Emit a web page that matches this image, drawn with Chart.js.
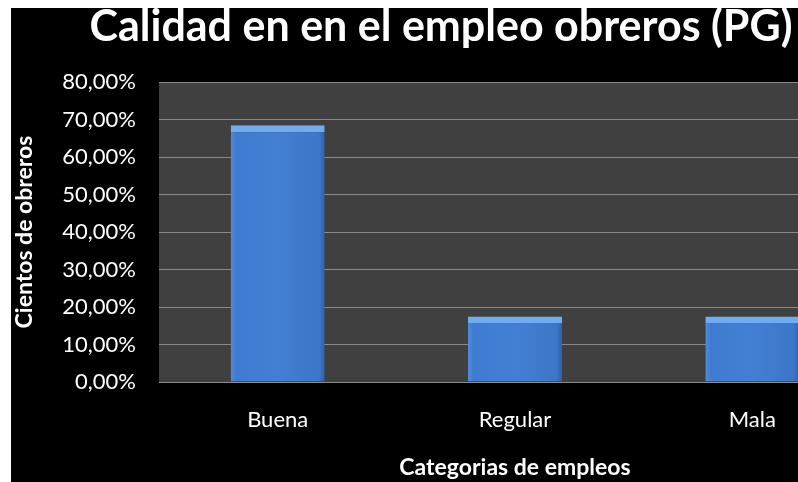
<!DOCTYPE html>
<html>
<head>
<meta charset="utf-8">
<script src="https://cdn.jsdelivr.net/npm/chart.js@4"></script>
<style>
  html, body { margin: 0; padding: 0; background: #fff; width: 798px; height: 482px; overflow: hidden; }
  #frame { position: absolute; left: 11px; top: 8px; width: 787px; height: 474px; background: #000; overflow: hidden; }
  #chart { position: absolute; left: -41px; top: 0; }
</style>
</head>
<body>
<div id="frame"><canvas id="chart" width="926" height="474"></canvas></div>
<script>
// --- data ---
const categories = ['Buena', 'Regular', 'Mala'];
const values = [68.5, 17.5, 17.5];
const yTickLabels = ['0,00%', '10,00%', '20,00%', '30,00%', '40,00%', '50,00%', '60,00%', '70,00%', '80,00%'];

const chartTitle = 'Calidad en en el empleo obreros (PG)';
const xTitle = 'Categorias de empleos';
const yTitle = 'Cientos de obreros';

const FONT = 'Lato';
const BAR_PCT = 0.396;

// dark plot background
const plotBg = {
    id: 'plotBg',
    beforeDraw(chart) {
        const { ctx, chartArea: a } = chart;
        ctx.save();
        ctx.fillStyle = '#404040';
        ctx.fillRect(a.left, a.top, a.right - a.left, a.bottom - a.top);
        ctx.restore();
    }
};

// bevel-ish face: darker at the sides, lighter in the middle
function barFill(context) {
    const chart = context.chart;
    const xs = chart.scales.x;
    if (!xs || !chart.chartArea) return '#3f7bd2';
    const cx = xs.getPixelForValue(context.dataIndex);
    const half = (xs.width / categories.length) * BAR_PCT / 2;
    const g = chart.ctx.createLinearGradient(cx - half, 0, cx + half, 0);
    g.addColorStop(0, '#4f8ddc');
    g.addColorStop(0.06, '#3f7bd0');
    g.addColorStop(0.5, '#437fd3');
    g.addColorStop(0.94, '#3c76c8');
    g.addColorStop(1, '#2f62ad');
    return g;
}

new Chart(document.getElementById('chart'), {
    type: 'bar',
    data: {
        labels: categories,
        datasets: [{
            data: values,
            backgroundColor: barFill,
            borderColor: '#72acf0',
            borderWidth: { top: 7, left: 0, right: 0, bottom: 0 },
            borderSkipped: false,
            barPercentage: BAR_PCT,
            categoryPercentage: 1
        }]
    },
    options: {
        responsive: false,
        animation: false,
        layout: { padding: { left: 41, right: 25, top: 0, bottom: 0 } },
        plugins: {
            legend: { display: false },
            tooltip: { enabled: false },
            title: {
                display: true,
                text: chartTitle,
                color: '#fff',
                font: { family: FONT, size: 43, weight: 'bold', lineHeight: 0.8 },
                padding: { top: 2, bottom: 37.6 }
            }
        },
        scales: {
            x: {
                grid: { display: false, drawTicks: false },
                border: { display: false },
                ticks: { color: '#fff', font: { family: FONT, size: 22 }, padding: 25 },
                title: {
                    display: true, text: xTitle, color: '#fff',
                    font: { family: FONT, size: 23, weight: 'bold', lineHeight: 1.2 },
                    padding: { top: 0, bottom: 1 }
                },
                afterFit(scale) { scale.height = 100; }
            },
            y: {
                min: 0, max: 80,
                grid: { color: '#8a8a8a', lineWidth: 1, drawTicks: false },
                border: { display: false },
                ticks: {
                    stepSize: 10,
                    color: '#fff',
                    font: { family: FONT, size: 22 },
                    padding: 23,
                    callback: (v, i) => yTickLabels[i]
                },
                title: {
                    display: true, text: yTitle, color: '#fff',
                    font: { family: FONT, size: 23, weight: 'bold', lineHeight: 1.2 },
                    padding: { top: 0, bottom: 0 }
                },
                afterFit(scale) { scale.width = 148; }
            }
        }
    },
    plugins: [plotBg]
});
</script>
</body>
</html>
